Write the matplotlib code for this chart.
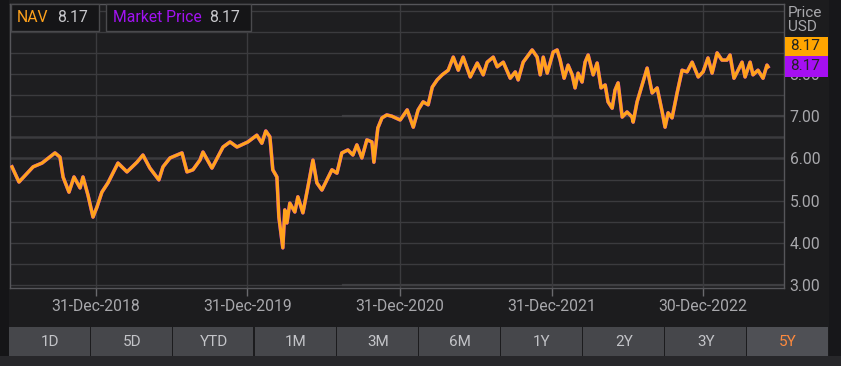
import matplotlib
matplotlib.use("Agg")
import matplotlib.pyplot as plt
from matplotlib.patches import Rectangle
import numpy as np
import pandas as pd

# approximate dates as decimal years
years = [2018.447, 2018.493, 2018.586, 2018.645, 2018.730, 2018.763, 2018.783, 2018.822,
         2018.855, 2018.895, 2018.914, 2018.947, 2018.980, 2019.007, 2019.039, 2019.079,
         2019.145, 2019.204, 2019.270, 2019.309, 2019.355, 2019.414, 2019.441, 2019.487,
         2019.566, 2019.599, 2019.638, 2019.684, 2019.704, 2019.763, 2019.836, 2019.882,
         2019.928, 2020.000, 2020.059, 2020.092, 2020.118, 2020.145, 2020.164, 2020.191,
         2020.204, 2020.230, 2020.243, 2020.257, 2020.276, 2020.309, 2020.329, 2020.362,
         2020.395, 2020.428, 2020.454, 2020.487, 2020.520, 2020.553, 2020.586, 2020.618,
         2020.658, 2020.691, 2020.717, 2020.750, 2020.783, 2020.816, 2020.829, 2020.855,
         2020.882, 2020.914, 2020.947, 2021.000, 2021.046, 2021.086, 2021.118, 2021.151,
         2021.184, 2021.211, 2021.243, 2021.276, 2021.316, 2021.349, 2021.382, 2021.414,
         2021.461, 2021.507, 2021.546, 2021.572, 2021.612, 2021.638, 2021.678, 2021.724,
         2021.757, 2021.776, 2021.809, 2021.868, 2021.901, 2021.921, 2021.941, 2021.967,
         2022.007, 2022.033, 2022.053, 2022.079, 2022.105, 2022.132, 2022.151, 2022.171,
         2022.197, 2022.217, 2022.237, 2022.270, 2022.296, 2022.322, 2022.349, 2022.368,
         2022.395, 2022.414, 2022.434, 2022.461, 2022.493, 2022.526, 2022.533, 2022.559,
         2022.592, 2022.625, 2022.658, 2022.691, 2022.724, 2022.743, 2022.763, 2022.789,
         2022.822, 2022.855, 2022.888, 2022.921, 2022.961, 2022.993, 2023.026, 2023.053,
         2023.086, 2023.118, 2023.151, 2023.171, 2023.197, 2023.224, 2023.250, 2023.270,
         2023.303, 2023.322, 2023.355, 2023.388, 2023.414, 2023.421]
nav = [5.80, 5.44, 5.80, 5.89, 6.13, 6.03, 5.56, 5.20,
       5.56, 5.30, 5.56, 5.13, 4.61, 4.85, 5.20, 5.42,
       5.89, 5.68, 5.91, 6.08, 5.77, 5.49, 5.80, 6.01,
       6.13, 5.68, 5.73, 5.96, 6.15, 5.77, 6.27, 6.39,
       6.27, 6.39, 6.55, 6.36, 6.65, 6.51, 5.73, 5.56,
       4.61, 3.88, 4.78, 4.47, 4.94, 4.73, 5.09, 4.71,
       5.32, 5.96, 5.42, 5.25, 5.49, 5.73, 5.65, 6.13,
       6.20, 6.08, 6.32, 6.01, 6.44, 6.39, 5.91, 6.72,
       6.96, 7.03, 7.00, 6.91, 7.15, 6.74, 7.15, 7.34,
       7.27, 7.69, 7.86, 7.98, 8.09, 8.40, 8.09, 8.40,
       7.93, 8.26, 7.98, 8.28, 8.40, 8.17, 8.28, 7.90,
       8.05, 7.86, 8.28, 8.57, 8.40, 7.98, 8.40, 8.02,
       8.52, 8.57, 8.33, 7.90, 8.21, 7.98, 7.67, 8.02,
       7.81, 8.28, 8.45, 7.98, 8.26, 7.67, 7.74, 7.34,
       7.19, 7.62, 7.79, 6.98, 7.10, 6.98, 6.86, 7.34,
       7.74, 8.14, 7.55, 7.67, 7.10, 6.74, 7.08, 6.96,
       7.55, 8.09, 8.05, 8.28, 7.93, 8.05, 8.38, 8.02,
       8.50, 8.33, 8.33, 8.45, 7.90, 8.09, 8.28, 7.93,
       8.28, 7.98, 8.09, 7.90, 8.21, 8.17]
# market price tracks NAV so closely it is indistinguishable at this scale
market = nav

tick_dates = ["2018-12-31", "2019-12-31", "2020-12-31", "2021-12-31", "2022-12-30"]
tick_labels = ["31-Dec-2018", "31-Dec-2019", "31-Dec-2020", "31-Dec-2021", "30-Dec-2022"]
y_ticks = [3.0, 4.0, 5.0, 6.0, 7.0, 8.0]
buttons = ["1D", "5D", "YTD", "1M", "3M", "6M", "1Y", "2Y", "3Y", "5Y"]
nav_last = "8.17"
mkt_last = "8.17"


def to_date(y):
    base = pd.Timestamp(f"{int(y)}-01-01")
    return base + pd.Timedelta(days=(y - int(y)) * 365.25)


dates = [to_date(y) for y in years]

W, H = 841, 366
plt.rcParams['font.family'] = ['Roboto', 'DejaVu Sans']
fig = plt.figure(figsize=(W / 100, H / 100), dpi=100)
fig.patch.set_facecolor('#1c1c1e')


def px_rect(x0, y0, x1, y1, **kw):
    # rectangle in pixel coords (y from top)
    r = Rectangle((x0 / W, 1 - y1 / H), (x1 - x0) / W, (y1 - y0) / H,
                  transform=fig.transFigure, **kw)
    fig.patches.append(r)
    return r


def px_text(x, y, s, **kw):
    fig.text(x / W, 1 - y / H, s, **kw)


# background strips
px_rect(0, 0, 9, H, facecolor='#151517', edgecolor='none')
px_rect(829, 0, W, H, facecolor='#17171a', edgecolor='none')
px_rect(0, 356, W, H, facecolor='#27272a', edgecolor='none')

ax = fig.add_axes([10 / W, 1 - 288 / H, (784 - 10) / W, (288 - 4) / H])
ax.set_facecolor('#1e1e20')

ymin = 3 - 3 / 42.2
ymax = 3 + 281 / 42.2
ax.set_ylim(ymin, ymax)
ax.set_xlim(to_date(2018.434), to_date(2023.526))

# grid
for g in np.arange(3.0, 9.6, 0.5):
    lw = 1.8 if g in (6.0, 6.5) else 1.0
    ax.axhline(g, color='#3b3b3e', lw=lw, zorder=1)
ax.axhline(7.0, xmin=0.43, color='#3f3f42', lw=1.6, zorder=1)
ax.axhline(3.0, xmin=0.43, color='#3f3f42', lw=1.6, zorder=1)
for d in tick_dates:
    ax.axvline(pd.Timestamp(d), color='#3b3b3e', lw=1.0, zorder=1)

ax.plot(dates, market, color='#a112f0', lw=2.6, zorder=3)
ax.plot(dates, nav, color='#ffa21c', lw=2.4, zorder=4)

ax.set_xticks([pd.Timestamp(d) for d in tick_dates])
ax.set_xticklabels(tick_labels)
ax.yaxis.tick_right()
ax.set_yticks(y_ticks)
ax.set_yticklabels([f"{v:.2f}" for v in y_ticks])
ax.tick_params(axis='x', colors='#6a6a6e', labelcolor='#a8a8ac', length=6, width=1,
               labelsize=11.3, pad=2)
ax.tick_params(axis='y', length=0, labelcolor='#a8a8ac', labelsize=11.3, pad=4)
for s in ax.spines.values():
    s.set_color('#56565a')
    s.set_linewidth(1)

# legend boxes
px_rect(11, 4, 99, 31, facecolor='#151517', edgecolor='#4a4a4d', lw=1, zorder=10)
px_text(17, 18, "NAV", color='#ffa21c', fontsize=11.3, va='center', zorder=11)
px_text(57, 18, nav_last, color='#c8c8cc', fontsize=11.3, va='center', zorder=11)
px_rect(106, 4, 251, 31, facecolor='#151517', edgecolor='#4a4a4d', lw=1, zorder=10)
px_text(113, 18, "Market Price", color='#a112f0', fontsize=11.3, va='center', zorder=11)
px_text(209, 18, mkt_last, color='#c8c8cc', fontsize=11.3, va='center', zorder=11)

# axis title and last-value badges
px_text(788, 13, "Price", color='#a8a8ac', fontsize=11, va='center')
px_text(788, 27, "USD", color='#a8a8ac', fontsize=11, va='center')
px_rect(785, 37, 828, 56, facecolor='#ffa500', edgecolor='none', zorder=10)
px_text(790, 46.5, nav_last, color='#222222', fontsize=11, va='center', zorder=11)
px_rect(785, 56, 828, 77, facecolor='#a50ff2', edgecolor='none', zorder=10)
px_text(790, 66.5, mkt_last, color='#222222', fontsize=11, va='center', zorder=11)

# range buttons
bx0, bx1 = 9, 829
bw = (bx1 - bx0) / len(buttons)
for i, b in enumerate(buttons):
    x0 = bx0 + i * bw
    active = b == "5Y"
    px_rect(x0, 327, x0 + bw - 1.5, 356, facecolor='#4f5055' if active else '#46474b',
            edgecolor='none', zorder=5)
    px_text(x0 + bw / 2, 341.5, b, color='#ff8a3d' if active else '#c3c4c8',
            fontsize=11, ha='center', va='center', zorder=6)

fig.savefig("out.png", dpi=100, facecolor=fig.get_facecolor())
